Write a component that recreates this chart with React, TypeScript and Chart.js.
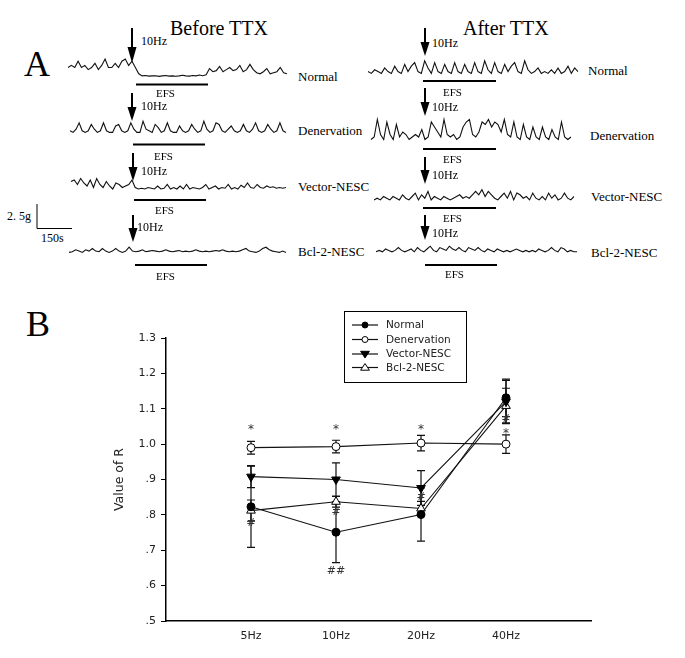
import React, { useEffect, useRef } from "react";
import { Chart, registerables } from "chart.js";
Chart.register(...registerables);

// ---------- Panel A traces (arbitrary tension units, 0..10) ----------
const traceNormalBefore = [5,6,5,8,5,6,4,5,7,4,6,9,5,5,7,5,8,9,6,8,5,2,1,1.2,0.9,1,1.1,0.8,1,1.2,0.9,1,0.8,1,1.3,1,0.9,1.2,1,1.4,1.1,1.5,4.5,3,3.5,5.5,3,4,5,3.5,4,6,3,4,6.5,4,2.5,2,3,4.5,2,2.5,3,5,2.5,2];
const traceDenervBefore = [2,1,3,7,2,1,2,6,3,1,2,7,2,1,1,5,6,2,1,2,7,3,1,1,8,3,2,1,6,4,1,2,7,2,1,1,5,2,1,2,6,3,1,2,8,3,1,2,7,6,2,1,3,5,2,1,2,6,2,1,3,7,2,1,2,6,3,1,2,7,2,1];
const traceVectorBefore = [7,8,5,9,6,4,8,3,9,5,3,7,4,2,6,5,3,4,5,8,3,2,2.5,2,3,2.5,2,4,2,2.5,5,2,3,2,4,2,5,2,3,2.5,2,3,5,2,3,4,2,3,2.5,5,2,3,2,4.5,3,6,3,2.5,5,3,2.5,4,3,3.5,2.5,3,2.5,3];
const traceBclBefore = [2,2.5,4,3,2,4,3,5,3,2.5,5,3,2,3,5,3,2,3,6,3,2.5,3,4,2.5,3,3.5,3,2.5,3,4,3,2.5,3,3.5,2.5,3,2.5,3,4,3,2.5,3,2.5,3,3.5,3,4,3,2.5,3,2.5,3,4,5,3,2.5,2,3,5,6,4,3,2.5,2,3,2];
const traceNormalAfter = [3,2,4,3,2,5,3,2,6,3,2,7,3,6,8,3,2,9,5,2,8,3,2,7,3,2,8,3,2,7,3,2,8,3,2,9,4,2,8,3,2,7,3,6,8,3,2,9,4,2,3,5,2,3,2,4,2,5,2,3,6,2,5,3];
const traceDenervAfter = [1,2,9,3,1,8,3,1,7,2,4,3,1,2,3,2,5,1,2,8,6,4,2,9,3,2,3,1,2,6,8,9,3,2,4,8,7,9,6,8,7,4,9,3,2,8,2,1,7,2,1,6,2,1,6,2,1,5,2,1,8,2,1,2];
const traceVectorAfter = [3,4,3,5,4,3,5,4,3,6,4,3,5,7,3,6,4,8,3,5,4,3,5,4,3,4,5,6,4,5,4,6,8,6,9,5,8,6,4,3,5,7,4,8,3,7,6,4,5,3,7,4,3,5,3,7,4,6,3,4,7,4,3,5];
const traceBclAfter = [3,4,3,5,4,3,4,6,4,3,4,5,3,6,4,3,5,7,4,3,6,5,4,7,5,4,6,4,3,6,5,4,6,4,3,5,4,3,5,4,3,4,3,4,5,4,3,4,3,4,3,5,4,3,4,6,4,3,6,5,3,4,3,3];

// ---------- Panel B data ----------
const categories = ["5Hz", "10Hz", "20Hz", "40Hz"];
const seriesNames = ["Normal", "Denervation", "Vector-NESC", "Bcl-2-NESC"];
const normalValues = [0.823, 0.751, 0.801, 1.131];
const denervationValues = [0.990, 0.993, 1.003, 1.000];
const vectorValues = [0.908, 0.900, 0.876, 1.120];
const bclValues = [0.812, 0.837, 0.818, 1.108];
const normalErrors = [0.115, 0.086, 0.075, 0.053];
const denervationErrors = [0.018, 0.018, 0.022, 0.026];
const vectorErrors = [0.031, 0.047, 0.049, 0.060];
const bclErrors = [0.030, 0.015, 0.020, 0.050];
const yTickValues = [0.5, 0.6, 0.7, 0.8, 0.9, 1.0, 1.1, 1.2, 1.3];
const yTickLabels = [".5", ".6", ".7", ".8", ".9", "1.0", "1.1", "1.2", "1.3"];
const starX = [1, 2, 3, 4];
const starY = [1.046, 1.046, 1.046, 1.036];
const hashText = ["#", "#", "#", "##", "#"];
const hashX = [1, 2, 3, 2, 4];
const hashY = [0.776, 0.808, 0.850, 0.641, 1.072];

const SERIF = '"Liberation Serif", "Times New Roman", serif';
const SANS = '"DejaVu Sans", sans-serif';

function Trace(props: { data: number[]; left: number; top: number; width: number; height: number }) {
  const { data, left, top, width, height } = props;
  const ref = useRef<HTMLCanvasElement>(null);
  useEffect(() => {
    const chart = new Chart(ref.current as HTMLCanvasElement, {
      type: "line",
      data: {
        labels: data.map((_, i) => i),
        datasets: [{ data, borderColor: "#111", borderWidth: 1.1, pointRadius: 0, tension: 0, fill: false }],
      },
      options: {
        responsive: false,
        animation: false,
        events: [],
        layout: { padding: 1 },
        plugins: { legend: { display: false }, tooltip: { enabled: false } },
        scales: { x: { display: false }, y: { display: false, min: 0, max: 10 } },
      },
    });
    return () => chart.destroy();
  }, [data]);
  return (
    <canvas
      ref={ref}
      width={width}
      height={height}
      style={{ position: "absolute", left, top, width, height }}
    />
  );
}

function Txt(props: { x: number; cy: number; size: number; text: string; family?: string }) {
  const { x, cy, size, text, family } = props;
  const lh = Math.round(size * 1.2);
  return (
    <div
      style={{
        position: "absolute",
        left: x,
        top: cy - lh / 2,
        lineHeight: lh + "px",
        fontSize: size,
        fontFamily: family || SERIF,
        color: "#000",
        whiteSpace: "nowrap",
      }}
    >
      {text}
    </div>
  );
}

function Arrow({ x, y1, y2, head }: { x: number; y1: number; y2: number; head: number }) {
  return (
    <g>
      <line x1={x} y1={y1} x2={x} y2={y2 - head + 1} stroke="#000" strokeWidth={2} />
      <polygon points={`${x - 4.5},${y2 - head} ${x + 4.5},${y2 - head} ${x},${y2}`} fill="#000" />
    </g>
  );
}

function drawMarker(ctx: CanvasRenderingContext2D, style: string, x: number, y: number, r: number, rot: number, fill: string) {
  ctx.save();
  ctx.fillStyle = fill;
  ctx.strokeStyle = "#000";
  ctx.lineWidth = 1;
  ctx.beginPath();
  if (style === "circle") {
    ctx.arc(x, y, r, 0, Math.PI * 2);
  } else {
    const s = rot === 180 ? -1 : 1;
    const h = r * 1.5;
    ctx.moveTo(x, y - s * h * 0.66);
    ctx.lineTo(x - r * 1.1, y + s * h * 0.45);
    ctx.lineTo(x + r * 1.1, y + s * h * 0.45);
    ctx.closePath();
  }
  ctx.fill();
  ctx.stroke();
  ctx.restore();
}

function PanelB() {
  const ref = useRef<HTMLCanvasElement>(null);
  useEffect(() => {
    const values = [normalValues, denervationValues, vectorValues, bclValues];
    const errors = [normalErrors, denervationErrors, vectorErrors, bclErrors];
    const pointStyles = ["circle", "circle", "triangle", "triangle"];
    const rotations = [0, 0, 180, 0];
    const fills = ["#000", "#fff", "#000", "#fff"];
    const radii = [4, 4, 5, 5];

    const errorPlugin = {
      id: "errorBars",
      beforeDatasetsDraw(chart: any) {
        const { ctx } = chart;
        const xs = chart.scales.x;
        const ys = chart.scales.y;
        ctx.save();
        ctx.strokeStyle = "#111";
        ctx.lineWidth = 1.2;
        values.forEach((vals, i) => {
          vals.forEach((v, j) => {
            const px = xs.getPixelForValue(j + 1);
            const t = ys.getPixelForValue(v + errors[i][j]);
            const b = ys.getPixelForValue(v - errors[i][j]);
            ctx.beginPath();
            ctx.moveTo(px, t);
            ctx.lineTo(px, b);
            ctx.moveTo(px - 4, t);
            ctx.lineTo(px + 4, t);
            ctx.moveTo(px - 4, b);
            ctx.lineTo(px + 4, b);
            ctx.stroke();
          });
        });
        ctx.restore();
      },
    };

    const annotPlugin = {
      id: "annot",
      afterDraw(chart: any) {
        const { ctx } = chart;
        const xs = chart.scales.x;
        const ys = chart.scales.y;
        ctx.save();
        ctx.fillStyle = "#333";
        ctx.textAlign = "center";
        ctx.textBaseline = "middle";
        ctx.font = `12px ${SANS}`;
        starX.forEach((x, i) => {
          ctx.fillText("*", xs.getPixelForValue(x), ys.getPixelForValue(starY[i]) + 2);
        });
        ctx.font = `11px ${SANS}`;
        hashText.forEach((t, i) => {
          ctx.fillText(t, xs.getPixelForValue(hashX[i]), ys.getPixelForValue(hashY[i]));
        });

        // legend box
        const bx = 344, by = 11, bw = 122, bh = 71;
        ctx.strokeStyle = "#000";
        ctx.lineWidth = 1;
        ctx.strokeRect(bx + 0.5, by + 0.5, bw, bh);
        const rowsY = [25, 39.5, 54, 67.5];
        ctx.textAlign = "left";
        ctx.font = `10.5px ${SANS}`;
        seriesNames.forEach((name, i) => {
          const y = rowsY[i];
          ctx.strokeStyle = "#111";
          ctx.lineWidth = 1.2;
          ctx.beginPath();
          ctx.moveTo(352, y);
          ctx.lineTo(378, y);
          ctx.stroke();
          drawMarker(ctx, pointStyles[i], 365, y, radii[i] - 1, rotations[i], fills[i]);
          ctx.fillStyle = "#222";
          ctx.fillText(name, 386, y + 0.5);
        });
        ctx.restore();
      },
    };

    const chart = new Chart(ref.current as HTMLCanvasElement, {
      type: "line",
      data: {
        datasets: values.map((vals, i) => ({
          label: seriesNames[i],
          data: vals.map((v, j) => ({ x: j + 1, y: v })),
          borderColor: "#111",
          borderWidth: 1.1,
          tension: 0,
          fill: false,
          pointStyle: pointStyles[i] as any,
          pointRotation: rotations[i],
          pointRadius: radii[i],
          pointBackgroundColor: fills[i],
          pointBorderColor: "#000",
          pointBorderWidth: 1,
        })),
      },
      options: {
        responsive: false,
        animation: false,
        events: [],
        layout: { padding: { left: 108, top: 38, right: 94, bottom: 0 } },
        plugins: { legend: { display: false }, tooltip: { enabled: false } },
        scales: {
          x: {
            type: "linear",
            min: 0,
            max: 5,
            afterBuildTicks: (s: any) => {
              s.ticks = categories.map((_, i) => ({ value: i + 1 }));
            },
            afterFit: (s: any) => {
              s.height = 37;
            },
            ticks: {
              autoSkip: false,
              maxRotation: 0,
              padding: 9,
              color: "#222",
              font: { family: SANS, size: 11 },
              callback: (v: any) => categories[Number(v) - 1] ?? "",
            },
            grid: { display: true, drawOnChartArea: false, drawTicks: false, color: "#000" },
            border: { display: true, color: "#000", width: 1.5 },
          },
          y: {
            type: "linear",
            min: 0.5,
            max: 1.3,
            afterBuildTicks: (s: any) => {
              s.ticks = yTickValues.map((v) => ({ value: v }));
            },
            afterFit: (s: any) => {
              s.width = 58;
            },
            ticks: {
              padding: 5,
              color: "#222",
              font: { family: SANS, size: 11 },
              callback: (_v: any, idx: number) => yTickLabels[idx],
            },
            grid: { display: true, drawOnChartArea: false, drawTicks: true, tickLength: 5, color: "#000" },
            border: { display: true, color: "#000", width: 1.5 },
            title: {
              display: true,
              text: "Value of R",
              color: "#222",
              font: { family: SANS, size: 12.5 },
            },
          },
        },
      },
      plugins: [errorPlugin, annotPlugin],
    });
    return () => chart.destroy();
  }, []);
  return (
    <canvas
      ref={ref}
      width={685}
      height={358}
      style={{ position: "absolute", left: 0, top: 300, width: 685, height: 358 }}
    />
  );
}

export default function App() {
  return (
    <div
      style={{
        position: "absolute",
        left: 0,
        top: 0,
        width: 685,
        height: 658,
        background: "#fff",
        overflow: "hidden",
      }}
    >
      {/* Panel A decorations */}
      <svg width={685} height={300} style={{ position: "absolute", left: 0, top: 0 }}>
        <Arrow x={132} y1={28} y2={63} head={16} />
        <Arrow x={132} y1={93} y2={121} head={14} />
        <Arrow x={133} y1={153} y2={181} head={14} />
        <Arrow x={133} y1={215} y2={242} head={14} />
        <Arrow x={425} y1={28} y2={56} head={14} />
        <Arrow x={425} y1={88} y2={116} head={14} />
        <Arrow x={425} y1={157} y2={184} head={14} />
        <Arrow x={425} y1={215} y2={240} head={14} />
        <line x1={136} y1={84.5} x2={208} y2={84.5} stroke="#000" strokeWidth={2} />
        <line x1={133} y1={144.5} x2={205} y2={144.5} stroke="#000" strokeWidth={2} />
        <line x1={134} y1={200} x2={206} y2={200} stroke="#000" strokeWidth={2} />
        <line x1={135} y1={265} x2={207} y2={265} stroke="#000" strokeWidth={2} />
        <line x1={423} y1={81} x2={496} y2={81} stroke="#000" strokeWidth={2} />
        <line x1={423} y1={149} x2={496} y2={149} stroke="#000" strokeWidth={2} />
        <line x1={423} y1={208} x2={496} y2={208} stroke="#000" strokeWidth={2} />
        <line x1={425} y1={265} x2={497} y2={265} stroke="#000" strokeWidth={2} />
        <line x1={37} y1={204} x2={37} y2={228.5} stroke="#000" strokeWidth={1} />
        <line x1={37} y1={228.5} x2={72} y2={228.5} stroke="#000" strokeWidth={1} />
      </svg>

      <Trace data={traceNormalBefore} left={67} top={56} width={221} height={23} />
      <Trace data={traceDenervBefore} left={69} top={117} width={218} height={18} />
      <Trace data={traceVectorBefore} left={70} top={176} width={217} height={17} />
      <Trace data={traceBclBefore} left={68} top={241} width={219} height={15} />
      <Trace data={traceNormalAfter} left={367} top={58} width={212} height={20} />
      <Trace data={traceDenervAfter} left={370} top={116} width={202} height={27} />
      <Trace data={traceVectorAfter} left={373} top={187} width={202} height={19} />
      <Trace data={traceBclAfter} left={375} top={241} width={203} height={16} />

      <Txt x={24} cy={64} size={36} text="A" />
      <Txt x={170} cy={28} size={20} text="Before TTX" />
      <Txt x={463} cy={28} size={20} text="After TTX" />

      <Txt x={141} cy={41} size={12} text="10Hz" />
      <Txt x={141} cy={106} size={12} text="10Hz" />
      <Txt x={141} cy={171} size={12} text="10Hz" />
      <Txt x={137} cy={227} size={12} text="10Hz" />
      <Txt x={432} cy={43} size={12} text="10Hz" />
      <Txt x={432} cy={107} size={12} text="10Hz" />
      <Txt x={432} cy={175} size={12} text="10Hz" />
      <Txt x={432} cy={233} size={12} text="10Hz" />

      <Txt x={156} cy={93} size={11} text="EFS" />
      <Txt x={154} cy={156} size={11} text="EFS" />
      <Txt x={155} cy={210} size={11} text="EFS" />
      <Txt x={156} cy={276} size={11} text="EFS" />
      <Txt x={443} cy={92} size={11} text="EFS" />
      <Txt x={443} cy={159} size={11} text="EFS" />
      <Txt x={443} cy={218} size={11} text="EFS" />
      <Txt x={445} cy={274} size={11} text="EFS" />

      <Txt x={298} cy={77} size={13} text="Normal" />
      <Txt x={298} cy={131} size={13} text="Denervation" />
      <Txt x={298} cy={187} size={13} text="Vector-NESC" />
      <Txt x={298} cy={252} size={13} text="Bcl-2-NESC" />
      <Txt x={588} cy={71} size={13} text="Normal" />
      <Txt x={590} cy={136} size={13} text="Denervation" />
      <Txt x={591} cy={197} size={13} text="Vector-NESC" />
      <Txt x={591} cy={253} size={13} text="Bcl-2-NESC" />

      <Txt x={7} cy={216} size={12} text="2. 5g" />
      <Txt x={41} cy={238} size={12} text="150s" />

      <Txt x={26} cy={324} size={36} text="B" />
      <PanelB />
    </div>
  );
}
